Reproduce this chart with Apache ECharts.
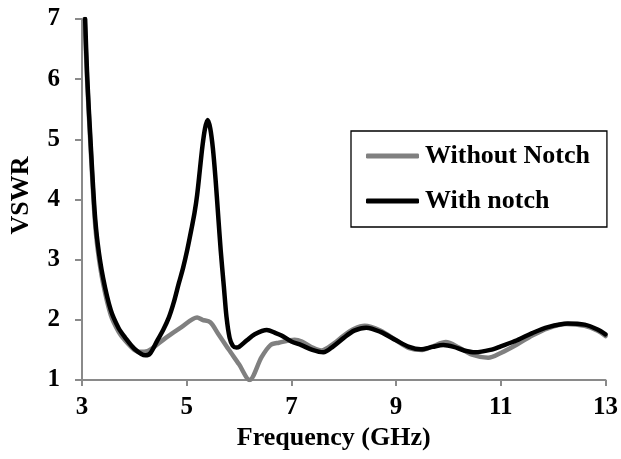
<!DOCTYPE html>
<html>
<head>
<meta charset="utf-8">
<script src="https://cdn.jsdelivr.net/npm/echarts@6/dist/echarts.min.js"></script>
<style>
  html, body { margin: 0; padding: 0; background: #fff; }
  #chart { width: 621px; height: 459px; }
</style>
</head>
<body>
<div id="chart"></div>
<script>
// VSWR of the antenna versus frequency, with and without the band notch
const freqWithout = [3.05, 3.10, 3.165, 3.24, 3.30, 3.40, 3.55, 3.70, 3.82, 4.00, 4.10, 4.25, 4.35, 4.60, 4.90, 5.20, 5.30, 5.45, 5.60, 5.80, 6.00, 6.20, 6.43, 6.60, 6.76, 7.06, 7.20, 7.40, 7.57, 7.80, 8.00, 8.20, 8.40, 8.70, 9.00, 9.25, 9.50, 9.70, 9.95, 10.20, 10.45, 10.76, 11.00, 11.31, 11.60, 11.90, 12.25, 12.60, 12.85, 13.00];
const vswrWithout = [7.00, 5.95, 4.85, 3.72, 3.17, 2.62, 2.08, 1.80, 1.66, 1.50, 1.47, 1.48, 1.53, 1.70, 1.88, 2.04, 2.00, 1.96, 1.77, 1.51, 1.26, 1.00, 1.38, 1.58, 1.62, 1.67, 1.64, 1.54, 1.49, 1.60, 1.74, 1.85, 1.90, 1.82, 1.66, 1.53, 1.50, 1.56, 1.63, 1.54, 1.42, 1.37, 1.45, 1.59, 1.74, 1.86, 1.93, 1.90, 1.82, 1.73];

const freqWith = [3.06, 3.10, 3.165, 3.24, 3.30, 3.40, 3.55, 3.70, 3.82, 4.00, 4.21, 4.30, 4.44, 4.55, 4.66, 4.75, 4.85, 4.93, 5.01, 5.10, 5.15, 5.20, 5.25, 5.30, 5.35, 5.40, 5.45, 5.50, 5.55, 5.60, 5.65, 5.71, 5.76, 5.82, 5.88, 5.95, 6.00, 6.15, 6.30, 6.53, 6.70, 6.81, 7.00, 7.19, 7.40, 7.61, 7.80, 8.00, 8.20, 8.43, 8.70, 9.00, 9.25, 9.47, 9.70, 9.90, 10.10, 10.30, 10.51, 10.80, 11.00, 11.31, 11.60, 11.90, 12.28, 12.60, 12.85, 13.00];
const vswrWith = [7.00, 6.03, 4.94, 3.82, 3.27, 2.71, 2.16, 1.86, 1.71, 1.52, 1.41, 1.44, 1.66, 1.83, 2.04, 2.28, 2.61, 2.86, 3.16, 3.55, 3.78, 4.08, 4.48, 4.88, 5.18, 5.32, 5.18, 4.85, 4.35, 3.75, 3.15, 2.55, 2.05, 1.70, 1.57, 1.54, 1.55, 1.66, 1.76, 1.83, 1.78, 1.74, 1.64, 1.58, 1.50, 1.46, 1.56, 1.70, 1.82, 1.87, 1.80, 1.66, 1.55, 1.51, 1.55, 1.58, 1.55, 1.49, 1.46, 1.50, 1.56, 1.66, 1.78, 1.88, 1.94, 1.92, 1.84, 1.76];

const seriesNames = ['Without Notch', 'With notch'];
const xTicks = { min: 3, max: 13, step: 2 };
const yTicks = { min: 1, max: 7, step: 1 };

const pairs = (xs, ys) => xs.map((x, i) => [x, ys[i]]);

const font = '"Liberation Serif", "Times New Roman", serif';
const axisGray = '#8a8a8a';

const chart = echarts.init(document.getElementById('chart'), null, { renderer: 'canvas' });
chart.setOption({
  animation: false,
  backgroundColor: '#ffffff',
  grid: { left: 79, right: 15, top: 19, bottom: 79 },
  legend: {
    orient: 'vertical',
    left: 351,
    top: 131,
    padding: [12, 17, 13, 15],
    itemGap: 19,
    itemWidth: 53,
    itemHeight: 5,
    icon: 'roundRect',
    borderColor: '#000',
    borderWidth: 1.3,
    textStyle: { fontFamily: font, fontWeight: 'bold', fontSize: 26, color: '#000', padding: [0, 0, 0, 1] },
    data: seriesNames
  },
  xAxis: {
    type: 'value',
    min: xTicks.min,
    max: xTicks.max,
    interval: xTicks.step,
    name: 'Frequency (GHz)',
    nameLocation: 'middle',
    nameGap: 43,
    nameTextStyle: { fontFamily: font, fontWeight: 'bold', fontSize: 26, color: '#000', padding: [0, 20, 0, 0] },
    axisLine: { lineStyle: { color: axisGray, width: 2 } },
    axisTick: { show: true, length: 6, lineStyle: { color: axisGray, width: 2 } },
    axisLabel: { margin: 15, fontFamily: font, fontWeight: 'bold', fontSize: 25, color: '#000' },
    splitLine: { show: false }
  },
  yAxis: {
    type: 'value',
    min: yTicks.min,
    max: yTicks.max,
    interval: yTicks.step,
    name: 'VSWR',
    nameLocation: 'middle',
    nameGap: 48,
    nameTextStyle: { fontFamily: font, fontWeight: 'bold', fontSize: 26, color: '#000', padding: [0, 0, 0, 8] },
    axisLine: { show: true, lineStyle: { color: axisGray, width: 2 } },
    axisTick: { show: true, length: 7, lineStyle: { color: axisGray, width: 2 } },
    axisLabel: { margin: 22, fontFamily: font, fontWeight: 'bold', fontSize: 25, color: '#000' },
    splitLine: { show: false }
  },
  series: [
    {
      name: seriesNames[0],
      type: 'line',
      data: pairs(freqWithout, vswrWithout),
      symbol: 'none',
      smooth: 0.3,
      color: '#808080',
      lineStyle: { color: '#808080', width: 4.5, cap: 'round', join: 'round' },
      z: 2
    },
    {
      name: seriesNames[1],
      type: 'line',
      data: pairs(freqWith, vswrWith),
      symbol: 'none',
      smooth: 0.3,
      color: '#000000',
      lineStyle: { color: '#000000', width: 4.5, cap: 'round', join: 'round' },
      z: 3
    }
  ]
});
</script>
</body>
</html>
